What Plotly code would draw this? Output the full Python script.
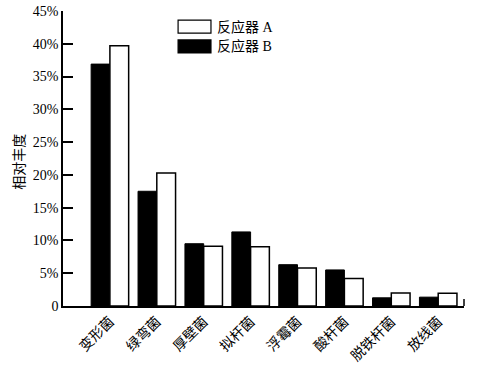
import plotly.graph_objects as go

categories = ["变形菌", "绿弯菌", "厚壁菌", "拟杆菌", "浮霉菌", "酸杆菌", "脱铁杆菌", "放线菌"]
reactor_a = [39.7, 20.3, 9.1, 9.05, 5.8, 4.2, 2.0, 1.95]
reactor_b = [36.9, 17.5, 9.5, 11.3, 6.3, 5.5, 1.25, 1.35]
series_names = ["反应器 A", "反应器 B"]
y_tickvals = [0, 5, 10, 15, 20, 25, 30, 35, 40, 45]
y_ticktext = ["0", "5%", "10%", "15%", "20%", "25%", "30%", "35%", "40%", "45%"]

FONT = "Liberation Serif, Times New Roman, Noto Sans CJK SC, serif"

fig = go.Figure()
fig.add_trace(go.Bar(x=categories, y=reactor_b, name=series_names[1],
                     marker=dict(color="black", line=dict(color="black", width=1)),
                     showlegend=False))
fig.add_trace(go.Bar(x=categories, y=reactor_a, name=series_names[0],
                     marker=dict(color="white", line=dict(color="black", width=1.5)),
                     showlegend=False))

# legend drawn as boxes + text
fig.add_shape(type="rect", xref="paper", yref="paper", x0=0.287, x1=0.369, y0=0.925, y1=0.969,
              line=dict(color="black", width=1.2), fillcolor="white")
fig.add_shape(type="rect", xref="paper", yref="paper", x0=0.287, x1=0.369, y0=0.858, y1=0.902,
              line=dict(color="black", width=1.2), fillcolor="black")
fig.add_annotation(xref="paper", yref="paper", x=0.38, y=0.947, text=series_names[0],
                   showarrow=False, xanchor="left", yanchor="middle",
                   font=dict(family=FONT, size=14, color="black"))
fig.add_annotation(xref="paper", yref="paper", x=0.38, y=0.880, text=series_names[1],
                   showarrow=False, xanchor="left", yanchor="middle",
                   font=dict(family=FONT, size=14, color="black"))
# small end tick on the x axis
fig.add_shape(type="line", xref="paper", yref="paper", x0=1, x1=1, y0=0, y1=0.024,
              line=dict(color="black", width=1.5))
# y axis title
fig.add_annotation(xref="paper", yref="paper", x=-0.109, y=0.49, text="相对丰度",
                   textangle=-90, showarrow=False, xanchor="center", yanchor="middle",
                   font=dict(family=FONT, size=14, color="black"))

fig.update_layout(
    width=498, height=367,
    margin=dict(l=63, r=34, t=11, b=61),
    paper_bgcolor="white", plot_bgcolor="white",
    barmode="group", bargap=0.2, bargroupgap=0,
    font=dict(family=FONT, size=14, color="black"),
    xaxis=dict(range=[-1, 7.55], showline=True, linecolor="black", linewidth=1.5,
               ticks="", tickangle=-45, showgrid=False, zeroline=False, automargin=False,
               tickfont=dict(family=FONT, size=14)),
    yaxis=dict(range=[0, 45], tickvals=y_tickvals, ticktext=y_ticktext,
               showline=True, linecolor="black", linewidth=1.5,
               ticks="inside", ticklen=10, tickwidth=1.5, tickcolor="black",
               showgrid=False, zeroline=False, automargin=False,
               tickfont=dict(family=FONT, size=14)),
)

fig.write_html("out.html", config={"displayModeBar": False},
               post_script="document.body.style.margin='0';document.body.style.overflow='hidden';")
